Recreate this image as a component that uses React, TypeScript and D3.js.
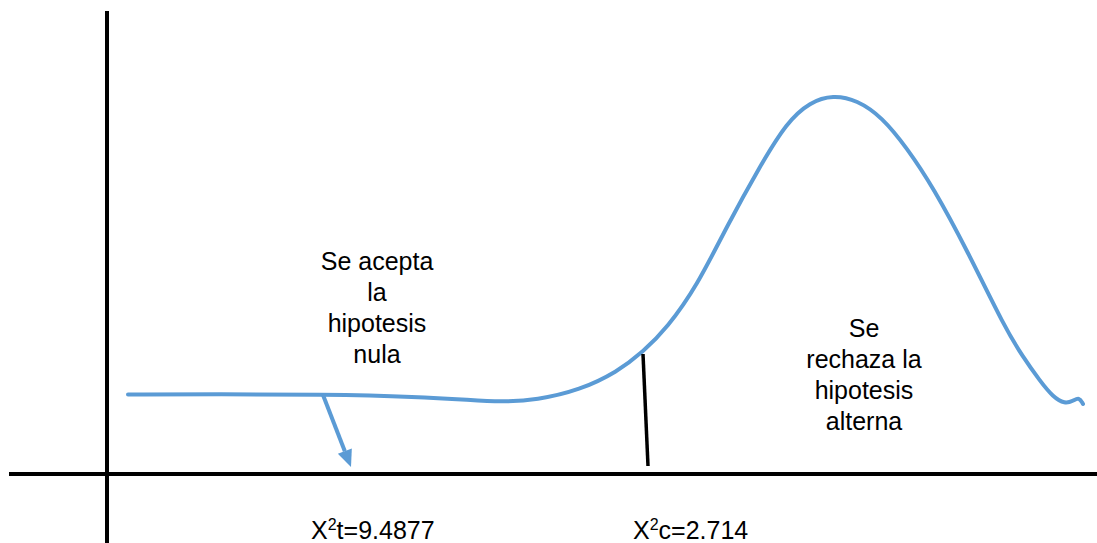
import React from "react";
import * as d3 from "d3";

// Curve points in chart units (origin at the axes crossing)
const curveX = [21, 113, 213, 313, 363, 393, 430, 473, 510, 536, 560, 590, 620, 653, 680, 703, 726, 750, 775, 800, 826, 860, 898, 916, 933, 946, 958, 966, 972, 976];
const curveY = [79.5, 79.7, 79.5, 77.3, 74, 72, 74, 84, 102, 122, 146, 188, 248, 308, 352, 372, 379, 374, 357, 326, 287, 224, 146, 117, 93, 77, 70, 73, 77, 70];

// Critical value marker (top, bottom)
const criticalX = [536, 541];
const criticalY = [120, 8];

// Arrow from curve toward the axis
const arrowX = [216, 244];
const arrowY = [79, 7];

const leftLabel = ["Se acepta", "la", "hipotesis", "nula"];
const rightLabel = ["Se", "rechaza la", "hipotesis", "alterna"];
const bottomLabels = [
  { base: "X", sup: "2", rest: "t=9.4877", at: 204 },
  { base: "X", sup: "2", rest: "c=2.714", at: 526 },
];

const W = 1097;
const H = 543;
const ox = 107;
const oy = 474;

const x = d3.scaleLinear().domain([0, 990]).range([ox, ox + 990]);
const y = d3.scaleLinear().domain([0, 463]).range([oy, oy - 463]);

const blue = "#5B9BD5";
const font = "'Liberation Sans', Arial, sans-serif";

export default function App() {
  const pts: [number, number][] = curveX.map((v, i) => [x(v), y(curveY[i])]);
  const path = d3.line().curve(d3.curveBasis)(pts) || "";

  const ax0 = x(arrowX[0]), ay0 = y(arrowY[0]);
  const ax1 = x(arrowX[1]), ay1 = y(arrowY[1]);
  const dx = ax1 - ax0, dy = ay1 - ay0;
  const len = Math.hypot(dx, dy);
  const ux = dx / len, uy = dy / len;
  const headL = 17, headW = 7.5;
  const bx = ax1 - ux * headL, by = ay1 - uy * headL;
  const head = `M${ax1},${ay1}L${bx - uy * headW},${by + ux * headW}L${bx + uy * headW},${by - ux * headW}Z`;

  return (
    <svg width={W} height={H} style={{ position: "absolute", left: 0, top: 0, background: "#fff" }}>
      {/* axes */}
      <line x1={x(0)} x2={x(0)} y1={11} y2={H} stroke="#000" strokeWidth={4} />
      <line x1={9} x2={W} y1={y(0)} y2={y(0)} stroke="#000" strokeWidth={4} />
      {/* curve */}
      <path d={path} fill="none" stroke={blue} strokeWidth={4} strokeLinecap="round" />
      {/* critical line */}
      <line x1={x(criticalX[0])} y1={y(criticalY[0])} x2={x(criticalX[1])} y2={y(criticalY[1])} stroke="#000" strokeWidth={3.5} />
      {/* arrow */}
      <line x1={ax0} y1={ay0} x2={bx} y2={by} stroke={blue} strokeWidth={4} />
      <path d={head} fill={blue} />
      {/* labels */}
      <text fontFamily={font} fontSize={25} textAnchor="middle" fill="#000">
        {leftLabel.map((t, i) => (
          <tspan key={i} x={377} y={270 + i * 31}>{t}</tspan>
        ))}
      </text>
      <text fontFamily={font} fontSize={25} textAnchor="middle" fill="#000">
        {rightLabel.map((t, i) => (
          <tspan key={i} x={864} y={337 + i * 31}>{t}</tspan>
        ))}
      </text>
      {bottomLabels.map((b, i) => (
        <text key={i} x={x(b.at)} y={539} fontFamily={font} fontSize={25} fill="#000">
          {b.base}
          <tspan fontSize={16} dy={-9}>{b.sup}</tspan>
          <tspan dy={9}>{b.rest}</tspan>
        </text>
      ))}
    </svg>
  );
}
